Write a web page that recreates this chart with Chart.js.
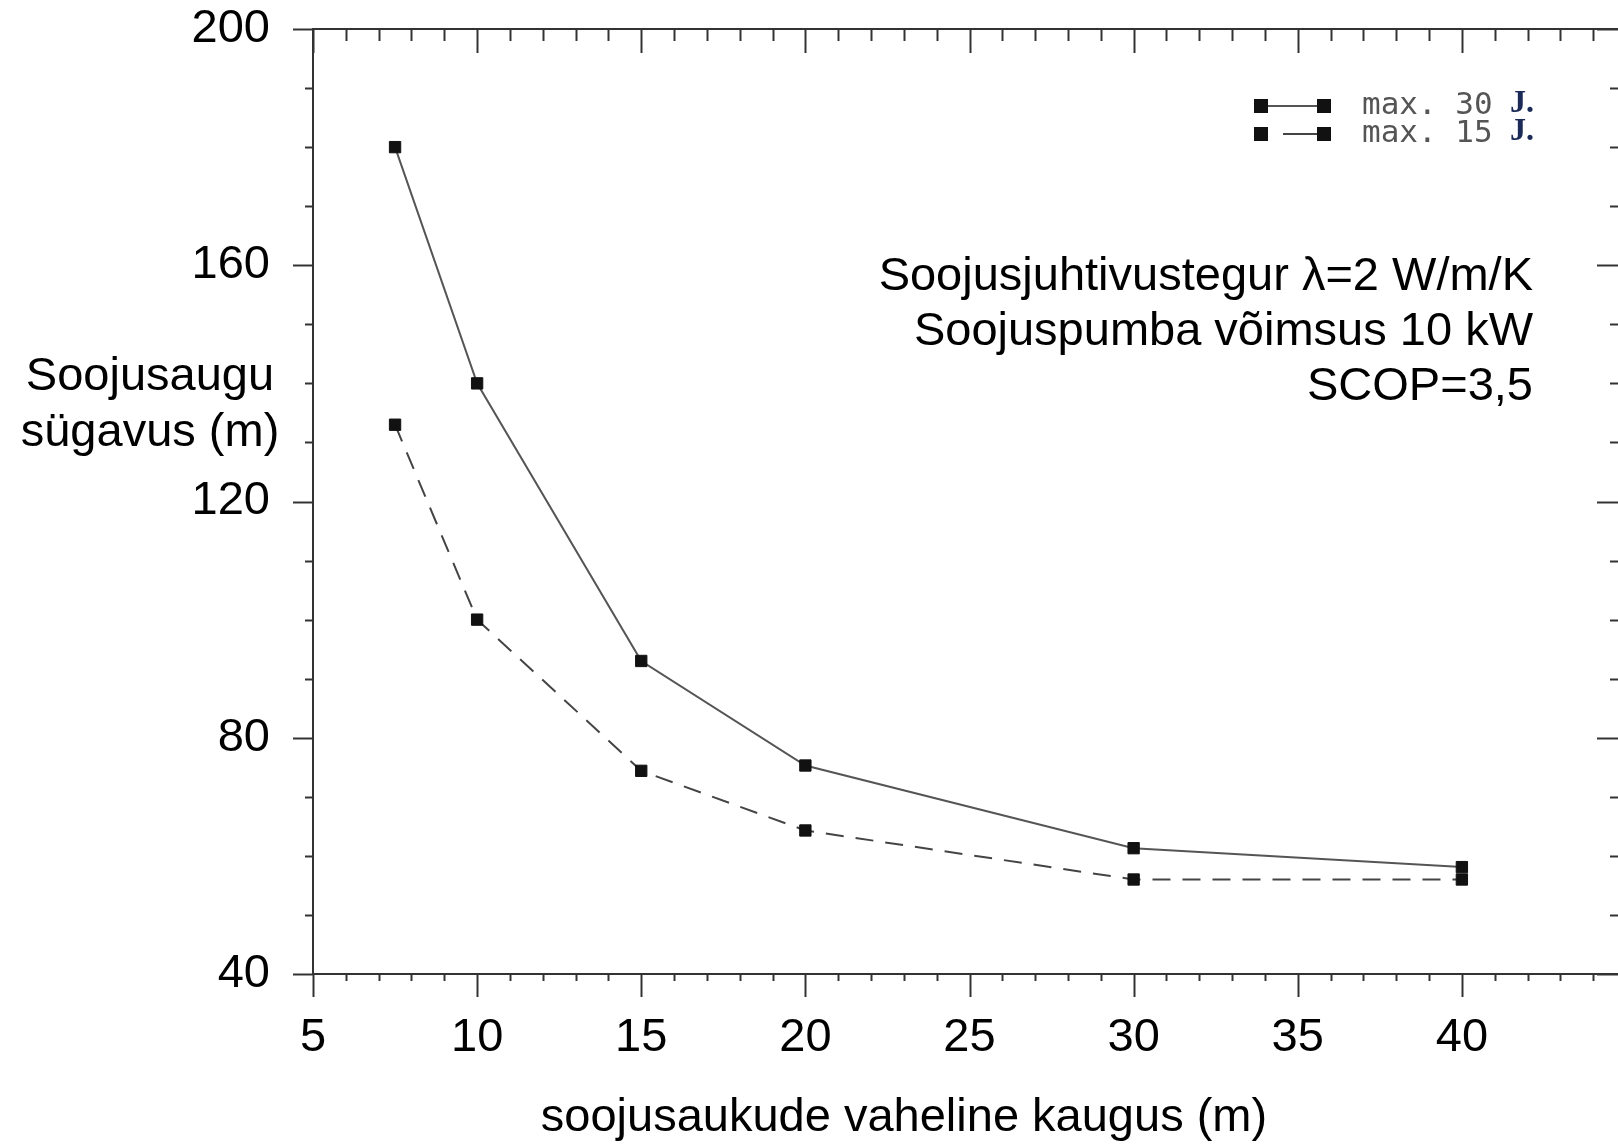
<!DOCTYPE html>
<html>
<head>
<meta charset="utf-8">
<script src="https://cdn.jsdelivr.net/npm/chart.js@4/dist/chart.umd.min.js"></script>
<style>
  html, body { margin: 0; padding: 0; background: #fff; overflow: hidden; }
  #wrap { position: relative; width: 1640px; height: 1145px; }
</style>
</head>
<body>
<div id="wrap"><canvas id="chart" width="1640" height="1145"></canvas></div>
<script>
// data
const distances = [7.5, 10, 15, 20, 30, 40];
const depth30 = [180, 140, 93, 75.3, 61.3, 58.1];
const depth15 = [133, 100, 74.4, 64.3, 56, 56];
const seriesLabels = ['max. 30', 'max. 15'];
const xTickLabels = [5, 10, 15, 20, 25, 30, 35, 40];
const yTickLabels = [40, 80, 120, 160, 200];
const noteLines = ['Soojusjuhtivustegur \u03bb=2 W/m/K', 'Soojuspumba võimsus 10 kW', 'SCOP=3,5'];
const yTitle = ['Soojusaugu', 'sügavus (m)'];
const xTitle = 'soojusaukude vaheline kaugus (m)';

const axisColor = '#333';
const mainFont = '"Liberation Sans", Arial, sans-serif';

// fixed box sizes, and no automatic label padding around the plot
function fixSize(size) {
    return function(s) {
        if (s.isHorizontal()) s.height = size; else s.width = size;
        s.paddingTop = s.paddingBottom = s.paddingLeft = s.paddingRight = 0;
    };
}

const decor = {
    id: 'decor',
    afterDraw(chart) {
        const { ctx, chartArea: a, scales } = chart;
        const x = scales.x, y = scales.y;
        ctx.save();
        ctx.strokeStyle = axisColor;
        ctx.lineWidth = 2;
        const line = (x1, y1, x2, y2) => { ctx.beginPath(); ctx.moveTo(x1, y1); ctx.lineTo(x2, y2); ctx.stroke(); };

        // ticks: bottom outward, top inward
        for (let v = 5; v <= 45; v++) {
            const px = Math.round(x.getPixelForValue(v)) + 0.5;
            const major = v % 5 === 0;
            line(px, a.bottom, px, a.bottom + (major ? 23 : 7));
            line(px, a.top, px, a.top + (major ? 24 : 12));
        }
        // ticks: left outward, right inward
        for (let v = 40; v <= 200; v += 10) {
            const py = Math.round(y.getPixelForValue(v)) + 0.5;
            const major = v % 40 === 0;
            line(a.left, py, a.left - (major ? 20 : 8), py);
            line(a.right, py, a.right - (major ? 29 : 16), py);
        }

        // legend
        const rows = [106, 134];
        chart.data.datasets.forEach((ds, i) => {
            const ly = rows[i];
            const x1 = 1261, x2 = 1324;
            ctx.strokeStyle = ds.borderColor;
            ctx.lineWidth = 2;
            if (ds.borderDash) {
                line(x1 + 22, ly, x2, ly);
            } else {
                line(x1, ly, x2, ly);
            }
            ctx.fillStyle = ds.pointBackgroundColor;
            [x1, x2].forEach(px => ctx.fillRect(px - 7, ly - 7, 14, 14));
            ctx.fillStyle = '#555';
            ctx.font = '31px "DejaVu Sans Mono", monospace';
            ctx.textAlign = 'left';
            ctx.textBaseline = 'middle';
            ctx.fillText(ds.label, 1362, ly);
            ctx.fillStyle = '#1b2a57';
            ctx.font = 'bold 32px "Liberation Serif", serif';
            ctx.fillText('J.', 1510, ly - 2);
        });

        // note text
        ctx.fillStyle = '#000';
        ctx.font = '47px ' + mainFont;
        ctx.textAlign = 'right';
        ctx.textBaseline = 'middle';
        noteLines.forEach((t, i) => ctx.fillText(t, 1533, 277 + i * 55));

        // axis titles
        ctx.textAlign = 'center';
        yTitle.forEach((t, i) => ctx.fillText(t, 150, 377 + i * 56));
        ctx.fillText(xTitle, 904, 1118);
        ctx.restore();
    }
};

const toPoints = ys => distances.map((d, i) => ({ x: d, y: ys[i] }));

new Chart(document.getElementById('chart'), {
    type: 'line',
    data: {
        datasets: [
            {
                label: seriesLabels[0], data: toPoints(depth30),
                borderColor: '#555', borderWidth: 2, tension: 0,
                pointStyle: 'rect', pointRadius: 8, pointBackgroundColor: '#111', pointBorderColor: '#111', pointBorderWidth: 1
            },
            {
                label: seriesLabels[1], data: toPoints(depth15),
                borderColor: '#444', borderWidth: 2, borderDash: [18, 12], tension: 0,
                pointStyle: 'rect', pointRadius: 8, pointBackgroundColor: '#111', pointBorderColor: '#111', pointBorderWidth: 1
            }
        ]
    },
    options: {
        responsive: false,
        animation: false,
        layout: { padding: 0, autoPadding: false },
        plugins: { legend: { display: false }, tooltip: { enabled: false } },
        scales: {
            x: {
                type: 'linear', position: 'bottom', min: 5, max: 45,
                afterFit: fixSize(171),
                grid: { display: false, drawTicks: false },
                border: { display: true, color: axisColor, width: 2 },
                ticks: {
                    stepSize: 5, padding: 36, color: '#000', maxRotation: 0,
                    font: { family: mainFont, size: 47 },
                    callback: v => xTickLabels.includes(v) ? String(v) : ''
                }
            },
            y: {
                type: 'linear', position: 'left', min: 40, max: 200,
                afterFit: fixSize(313),
                grid: { display: false, drawTicks: false },
                border: { display: true, color: axisColor, width: 2 },
                ticks: {
                    stepSize: 40, padding: 43, color: '#000',
                    font: { family: mainFont, size: 47 },
                    callback: v => yTickLabels.includes(v) ? String(v) : ''
                }
            },
            x2: {
                type: 'linear', position: 'top', min: 5, max: 45,
                afterFit: fixSize(29),
                grid: { display: false, drawTicks: false },
                border: { display: true, color: axisColor, width: 2 },
                ticks: { display: false }
            },
            y2: {
                type: 'linear', position: 'right', min: 40, max: 200,
                afterFit: fixSize(14),
                grid: { display: false, drawTicks: false },
                border: { display: true, color: axisColor, width: 2 },
                ticks: { display: false }
            }
        }
    },
    plugins: [decor]
});
</script>
</body>
</html>
